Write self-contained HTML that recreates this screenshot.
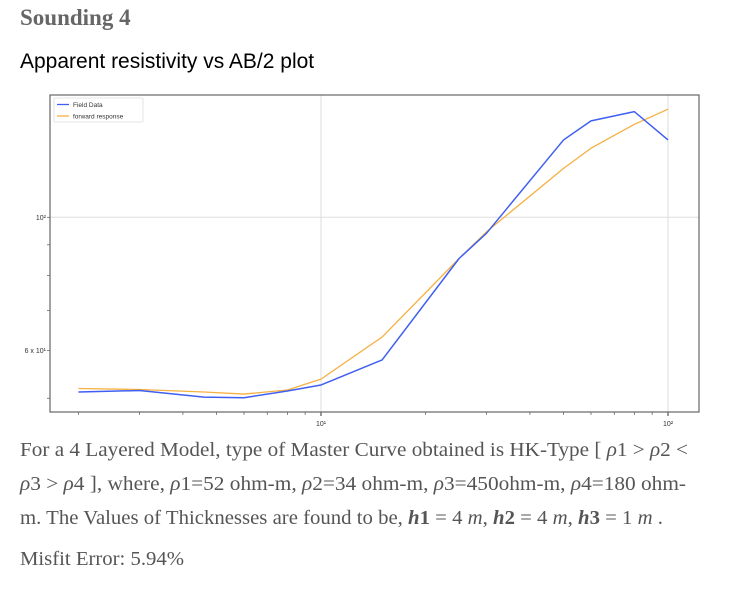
<!DOCTYPE html>
<html><head><meta charset="utf-8"><style>
body{margin:0;width:739px;height:591px;background:#fff;overflow:hidden;position:relative}
.t{position:absolute;left:20px;white-space:nowrap}
#title{top:5px;font:bold 23px "Liberation Serif",serif;color:#666}
#sub{top:50px;font:21px "Liberation Sans",sans-serif;color:#000}
.p{font:20px "Liberation Serif",serif;color:#555;transform-origin:0 0}
svg{position:absolute;left:0;top:0}
</style></head><body>
<div id="title" class="t">Sounding 4</div>
<div id="sub" class="t">Apparent resistivity vs AB/2 plot</div>
<svg id="chart" width="739" height="430"></svg>
<div class="t p fit" data-w="668" style="top:439px">For a 4 Layered Model, type of Master Curve obtained is HK-Type [ <i>ρ</i>1 &gt; <i>ρ</i>2 &lt;</div>
<div class="t p fit" data-w="666" style="top:473px"><i>ρ</i>3 &gt; <i>ρ</i>4 ], where, <i>ρ</i>1=52 ohm-m, <i>ρ</i>2=34 ohm-m, <i>ρ</i>3=450ohm-m, <i>ρ</i>4=180 ohm-</div>
<div class="t p fit" data-w="643" style="top:507px">m. The Values of Thicknesses are found to be, <b><i>h</i>1</b> = 4 <i>m</i>, <b><i>h</i>2</b> = 4 <i>m</i>, <b><i>h</i>3</b> = 1 <i>m</i> .</div>
<div class="t p fit" data-w="164" style="top:548px">Misfit Error: 5.94%</div>
<script>
const xs=[2,3,4.6,6,8,10,15,25,30,50,60,80,100];
const fieldData=[51.2,51.5,50.2,50.1,51.4,52.6,57.9,85.4,94.1,134.5,144.7,149.9,134.5];
const forwardResponse=[51.9,51.7,51.2,50.8,51.6,53.8,63.2,85.4,94.6,120.6,130.3,142.8,151.3];
const xTickVals=[10,100];const xTickLabels=["10¹","10²"];
const yTickVals=[100,60];const yTickLabels=["10²","6 x 10¹"];
const L=50,R=699,T=95,B=412;
const X=v=>321+347*Math.log10(v/10);
const Y=v=>217.3-601*Math.log10(v/100);
const svg=document.getElementById('chart');const NS='http://www.w3.org/2000/svg';
function mk(t,a){const e=document.createElementNS(NS,t);for(const k in a)e.setAttribute(k,a[k]);svg.appendChild(e);return e;}
let g;
xTickVals.forEach((v,i)=>{g=mk('line',{x1:X(v),x2:X(v),y1:T,y2:B,stroke:'#ddd','stroke-width':1});

g=mk('text',{x:X(v),y:B+14,'font-size':7,'text-anchor':'middle',fill:'#333','font-family':'Liberation Sans, sans-serif'});g.textContent=xTickLabels[i];
});
for(let d of [1,10])for(let k=2;k<=9;k++){const v=d*k;if(v<2||v>100)continue;g=mk('line',{x1:X(v),x2:X(v),y1:B,y2:B+3,stroke:'#555','stroke-width':0.7});
}
xTickVals.forEach(v=>{g=mk('line',{x1:X(v),x2:X(v),y1:B,y2:B+4,stroke:'#333'});});
yTickVals.forEach((v,i)=>{if(v===100){g=mk('line',{x1:L,x2:R,y1:Y(v),y2:Y(v),stroke:'#ddd','stroke-width':1});
}
g=mk('text',{x:L-4,y:Y(v)+2.5,'font-size':7,'text-anchor':'end',fill:'#333','font-family':'Liberation Sans, sans-serif'});g.textContent=yTickLabels[i];
});
[50,60,70,80,90,100,200].forEach(v=>{const y=Y(v);if(y<T||y>B)return;g=mk('line',{x1:L-3,x2:L,y1:y,y2:y,stroke:'#555','stroke-width':0.7});
});
function series(vals,color,w,name){g=mk('polyline',{points:xs.map((x,i)=>X(x)+','+Y(vals[i])).join(' '),fill:'none',stroke:color,'stroke-width':w,'stroke-linejoin':'round'});
}
series(forwardResponse,'#f5b041',1.3,'forward-response-line');
series(fieldData,'#3f5ff0',1.5,'field-data-line');
g=mk('rect',{x:L,y:T,width:R-L,height:B-T,fill:'none',stroke:'#666','stroke-width':1.2});
g=mk('rect',{x:54,y:98,width:89,height:24,fill:'#fff',stroke:'#ddd','stroke-width':0.8,rx:1.5});
[['Field Data','#3f5ff0',104.5],['forward response','#f5b041',116]].forEach(([t,c,y])=>{
g=mk('line',{x1:57,x2:69,y1:y,y2:y,stroke:c,'stroke-width':1.3});
g=mk('text',{x:73,y:y+2.3,'font-size':6.5,fill:'#333','font-family':'Liberation Sans, sans-serif'});g.textContent=t;});
document.querySelectorAll('.fit').forEach(e=>{const w=e.getBoundingClientRect().width;e.style.transform='scaleX('+(+e.dataset.w/w)+')';});
</script>
</body></html>
